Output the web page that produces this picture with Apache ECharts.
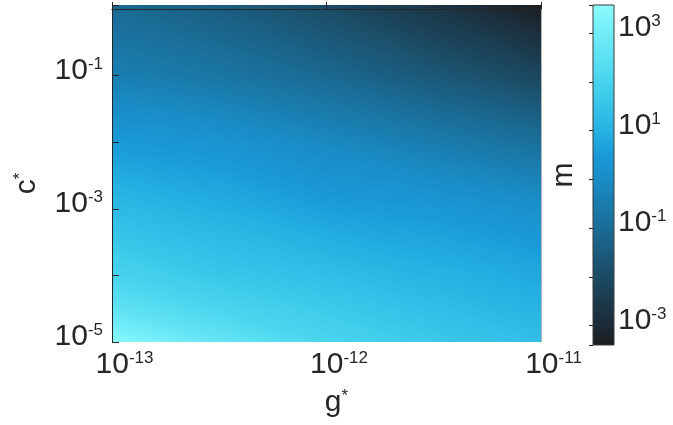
<!DOCTYPE html>
<html>
<head>
<meta charset="utf-8">
<script src="https://cdn.jsdelivr.net/npm/echarts@6/dist/echarts.min.js"></script>
<style>
  html, body { margin: 0; padding: 0; background: #fff; }
  #main { width: 673px; height: 425px; }
</style>
</head>
<body>
<div id="main"></div>
<script>
// node positions, as log10 of g* and c*
var gExp = [-13, -12.5, -12, -11.5, -11];
var cExp = [-5, -4.5, -4, -3, -2, -1, 0.06];

// log10(m) at each node, bottom row (c* = 1e-5) first
var mRowC50 = [3.5, 2.7, 2.05, 1.65, 1.35];
var mRowC45 = [2.6, 2.05, 1.7, 1.35, 1.05];
var mRowC40 = [2.0, 1.6, 1.35, 1.05, 0.8];
var mRowC30 = [1.25, 0.95, 0.6, 0.45, 0.15];
var mRowC20 = [0.5, 0.3, -0.1, -0.5, -0.9];
var mRowC10 = [-0.4, -0.7, -1.1, -1.6, -2.1];
var mRowC00 = [-1.05, -1.45, -2.0, -2.65, -3.4];
var mGrid = [mRowC50, mRowC45, mRowC40, mRowC30, mRowC20, mRowC10, mRowC00];

// labelled exponents
var xLabelExp = [-13, -12, -11];
var yLabelExp = [-5, -3, -1];
var cbarLabelExp = [-3, -1, 1, 3];
var cbarRange = [-3.4, 3.575];

// colormap (log10 m -> colour)
var cmapPos = [-3.4, -3, -2, -1, 0, 0.5, 1, 2, 3, 3.575];
var cmapCol = ['#1c1c1e', '#1c2a35', '#1b4a63', '#1a6c96', '#1a8cc6', '#1a9ad8', '#26b2e2', '#48d4ee', '#72ecf8', '#8cfcff'];

var txt = '#262626';
var font = 'Liberation Sans, Arial, sans-serif';

function rgb(h) {
  return [parseInt(h.substr(1, 2), 16), parseInt(h.substr(3, 2), 16), parseInt(h.substr(5, 2), 16)];
}
function cmap(v) {
  if (v <= cmapPos[0]) return cmapCol[0];
  var n = cmapPos.length;
  if (v >= cmapPos[n - 1]) return cmapCol[n - 1];
  var k = 0;
  while (v > cmapPos[k + 1]) k++;
  var t = (v - cmapPos[k]) / (cmapPos[k + 1] - cmapPos[k]);
  var a = rgb(cmapCol[k]), b = rgb(cmapCol[k + 1]);
  return 'rgb(' + Math.round(a[0] + (b[0] - a[0]) * t) + ',' +
    Math.round(a[1] + (b[1] - a[1]) * t) + ',' +
    Math.round(a[2] + (b[2] - a[2]) * t) + ')';
}

function powLabel(e) {
  return '{b|10}{s|' + e + '}';
}

var rich = {
  b: { fontSize: 30, fontFamily: font, color: txt, verticalAlign: 'bottom', lineHeight: 30 },
  s: { fontSize: 17, fontFamily: font, color: txt, verticalAlign: 'top', lineHeight: 22 }
};

// gradient fill for a triangle whose corners carry values
function triFill(p1, p2, p3, v1, v2, v3) {
  var vmin = Math.min(v1, v2, v3), vmax = Math.max(v1, v2, v3);
  if (vmax - vmin < 1e-6) return cmap(v1);
  var dx2 = p2[0] - p1[0], dy2 = p2[1] - p1[1], dv2 = v2 - v1;
  var dx3 = p3[0] - p1[0], dy3 = p3[1] - p1[1], dv3 = v3 - v1;
  var det = dx2 * dy3 - dx3 * dy2;
  var gx = (dv2 * dy3 - dv3 * dy2) / det;
  var gy = (dx2 * dv3 - dx3 * dv2) / det;
  var g2 = gx * gx + gy * gy;
  var sx = p1[0] + gx * (vmin - v1) / g2, sy = p1[1] + gy * (vmin - v1) / g2;
  var ex = p1[0] + gx * (vmax - v1) / g2, ey = p1[1] + gy * (vmax - v1) / g2;
  var stops = [];
  for (var k = 0; k <= 12; k++) {
    stops.push({ offset: k / 12, color: cmap(vmin + (vmax - vmin) * k / 12) });
  }
  return new echarts.graphic.LinearGradient(sx, sy, ex, ey, stops, true);
}

// each cell split into two triangles along its TL-BR diagonal
function renderCell(params, api) {
  var i = api.value(2), j = api.value(3);
  var bl = api.coord([gExp[i], cExp[j]]);
  var br = api.coord([gExp[i + 1], cExp[j]]);
  var tl = api.coord([gExp[i], cExp[j + 1]]);
  var tr = api.coord([gExp[i + 1], cExp[j + 1]]);
  var vBL = mGrid[j][i], vBR = mGrid[j][i + 1], vTL = mGrid[j + 1][i], vTR = mGrid[j + 1][i + 1];
  var f1 = triFill(bl, br, tl, vBL, vBR, vTL);
  var f2 = triFill(tr, tl, br, vTR, vTL, vBR);
  return {
    type: 'group',
    children: [
      { type: 'polygon', shape: { points: [bl, br, tl] }, style: { fill: f1, stroke: f1, lineWidth: 1.4, lineJoin: 'round' } },
      { type: 'polygon', shape: { points: [tr, tl, br] }, style: { fill: f2, stroke: f2, lineWidth: 1.4, lineJoin: 'round' } }
    ]
  };
}

function renderBar(params, api) {
  var p0 = api.coord([0, cbarRange[0]]);
  var p1 = api.coord([1, cbarRange[1]]);
  var stops = [];
  for (var k = 0; k < cmapPos.length; k++) {
    stops.push({ offset: (cmapPos[k] - cbarRange[0]) / (cbarRange[1] - cbarRange[0]), color: cmapCol[k] });
  }
  return {
    type: 'rect',
    shape: { x: p0[0], y: p1[1], width: p1[0] - p0[0], height: p0[1] - p1[1] },
    style: { fill: new echarts.graphic.LinearGradient(0, 1, 0, 0, stops), stroke: '#3a3a3a', lineWidth: 1 }
  };
}

var cells = [];
for (var j = 0; j < cExp.length - 1; j++) {
  for (var i = 0; i < gExp.length - 1; i++) {
    cells.push([(gExp[i] + gExp[i + 1]) / 2, (cExp[j] + cExp[j + 1]) / 2, i, j]);
  }
}

var chart = echarts.init(document.getElementById('main'), null, { renderer: 'canvas' });

var lineStyle = { color: txt, width: 1 };
var boxStyle = { color: '#b4b4b4', width: 1 };

var option = {
  animation: false,
  backgroundColor: '#fff',
  grid: [
    { left: 112, top: 5, width: 429, height: 337, outerBoundsMode: 'none', containLabel: false },
    { left: 593, top: 5, width: 21, height: 340, outerBoundsMode: 'none', containLabel: false }
  ],
  xAxis: [
    {
      gridIndex: 0, type: 'value', min: -13, max: -11, interval: 1, position: 'bottom', z: 5,
      axisLine: { show: true, lineStyle: lineStyle },
      axisTick: { show: true, inside: true, length: 7, lineStyle: lineStyle },
      splitLine: { show: false },
      axisLabel: {
        margin: 8, padding: [0, 0, 0, 25], rich: rich,
        formatter: function (v) { return xLabelExp.indexOf(v) >= 0 ? powLabel(v) : ''; }
      },
      name: '{b|g}{s|*}', nameLocation: 'middle', nameGap: 46,
      nameTextStyle: { padding: [0, 0, 0, 20], rich: rich }
    },
    {
      gridIndex: 0, type: 'value', min: -13, max: -11, position: 'top', z: 4,
      axisLine: { show: true, lineStyle: boxStyle },
      axisTick: { show: false }, axisLabel: { show: false }, splitLine: { show: false }
    },
    {
      gridIndex: 1, type: 'value', min: 0, max: 1, show: false
    }
  ],
  yAxis: [
    {
      gridIndex: 0, type: 'value', min: -5, max: 0.06, interval: 1, position: 'left', z: 5,
      axisLine: { show: true, lineStyle: lineStyle },
      axisTick: { show: true, inside: true, length: 7, lineStyle: lineStyle },
      splitLine: { show: false },
      axisLabel: {
        margin: 9, padding: [0, 0, 10, 0], rich: rich,
        formatter: function (v) { return yLabelExp.indexOf(v) >= 0 ? powLabel(v) : ''; }
      },
      name: '{b|c}{s|*}', nameLocation: 'middle', nameGap: 70, nameRotate: 90,
      nameTextStyle: { padding: [0, 20, 0, 0], rich: rich }
    },
    {
      gridIndex: 0, type: 'value', min: -5, max: 0.06, position: 'right', z: 4,
      axisLine: { show: true, lineStyle: boxStyle },
      axisTick: { show: false }, axisLabel: { show: false }, splitLine: { show: false }
    },
    {
      gridIndex: 1, type: 'value', min: cbarRange[0], max: cbarRange[1], splitNumber: 7, position: 'right',
      axisLine: { show: false },
      axisTick: { show: true, inside: true, length: 4, lineStyle: lineStyle },
      splitLine: { show: false },
      axisLabel: {
        margin: 4, padding: [0, 0, 10, 0], rich: rich,
        formatter: function (v) { return cbarLabelExp.indexOf(v) >= 0 ? powLabel(v) : ''; }
      }
    },
    {
      gridIndex: 1, type: 'value', min: cbarRange[0], max: cbarRange[1], position: 'left',
      axisLine: { show: false }, axisTick: { show: false }, axisLabel: { show: false }, splitLine: { show: false },
      name: '{b|m}', nameLocation: 'middle', nameGap: 14, nameRotate: 90,
      nameTextStyle: { rich: rich }
    }
  ],
  series: [
    {
      type: 'custom', xAxisIndex: 0, yAxisIndex: 0, clip: true, z: 1,
      renderItem: renderCell, data: cells
    },
    {
      type: 'custom', xAxisIndex: 2, yAxisIndex: 2, z: 1,
      renderItem: renderBar, data: [[0.5, 0]]
    }
  ]
};

chart.setOption(option);
</script>
</body>
</html>
